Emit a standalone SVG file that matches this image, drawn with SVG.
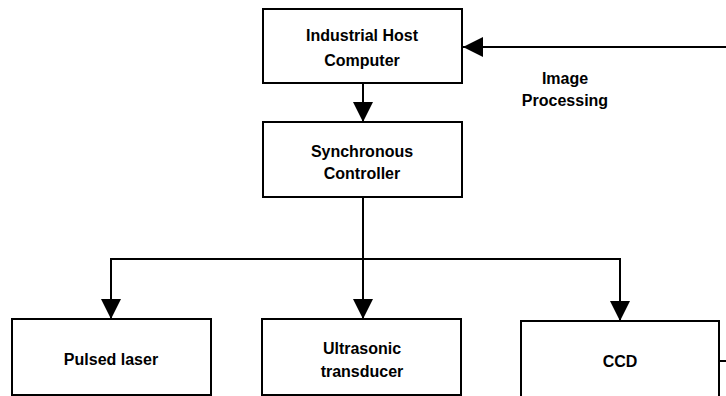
<svg xmlns="http://www.w3.org/2000/svg" width="726" height="396" viewBox="0 0 726 396">
<defs>
<style>
.box{fill:#ffffff;stroke:#000000;stroke-width:2}
.lbl{font-family:"Liberation Sans",Arial,sans-serif;font-weight:bold;font-size:16px;fill:#000000;text-anchor:middle}
.conn{fill:none;stroke:#000000;stroke-width:2}
</style>
<marker id="arr" markerUnits="userSpaceOnUse" markerWidth="20" markerHeight="20" refX="20" refY="10" orient="auto">
<path d="M0,0 L20,10 L0,20 Z" fill="#000000"/>
</marker>
</defs>
<rect width="726" height="396" fill="#ffffff"/>
<g id="connectors">
<path class="conn" d="M726,47 H463" marker-end="url(#arr)"/>
<path class="conn" d="M363,83 V122" marker-end="url(#arr)"/>
<path class="conn" d="M363,197 V319" marker-end="url(#arr)"/>
<path class="conn" d="M111,259 H620"/>
<path class="conn" d="M111,258 V319" marker-end="url(#arr)"/>
<path class="conn" d="M620,258 V321" marker-end="url(#arr)"/>
<path class="conn" d="M719,361 H726"/>
<text class="lbl" x="565" y="84">Image</text>
<text class="lbl" x="565" y="106">Processing</text>
</g>
<g id="host">
<rect class="box" x="263" y="9" width="199" height="74"/>
<text class="lbl" x="362" y="41">Industrial Host</text>
<text class="lbl" x="362" y="66">Computer</text>
</g>
<g id="sync">
<rect class="box" x="263" y="122" width="199" height="75"/>
<text class="lbl" x="362" y="157">Synchronous</text>
<text class="lbl" x="362" y="179">Controller</text>
</g>
<g id="laser">
<rect class="box" x="12" y="319" width="199" height="76"/>
<text class="lbl" x="111" y="365">Pulsed laser</text>
</g>
<g id="transducer">
<rect class="box" x="262" y="319" width="199" height="76"/>
<text class="lbl" x="362" y="354">Ultrasonic</text>
<text class="lbl" x="362" y="377">transducer</text>
</g>
<g id="ccd">
<rect class="box" x="521" y="321" width="198" height="80"/>
<text class="lbl" x="620" y="367">CCD</text>
</g>
</svg>
